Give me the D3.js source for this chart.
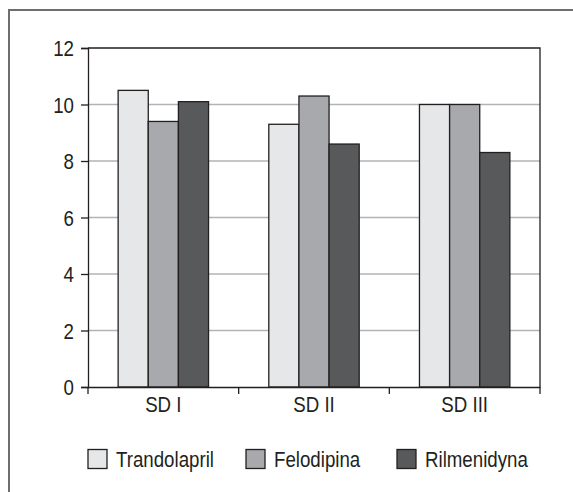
<!DOCTYPE html>
<html><head><meta charset="utf-8">
<script src="https://cdn.jsdelivr.net/npm/d3@7"></script>
<style>
html,body{margin:0;padding:0;background:#fff;}
svg text{font-family:"Liberation Sans",Arial,sans-serif;fill:#231f20;}
</style></head>
<body>
<svg id="chart" width="573" height="492"></svg>
<script>
const categories = ["SD I", "SD II", "SD III"];
const seriesNames = ["Trandolapril", "Felodipina", "Rilmenidyna"];
const trandolapril = [10.5, 9.3, 10.0];
const felodipina = [9.4, 10.3, 10.0];
const rilmenidyna = [10.1, 8.6, 8.3];
const yTicks = [0, 2, 4, 6, 8, 10, 12];
const colors = ["#e6e7e8", "#a7a9ac", "#58595b"];

const seriesValues = [trandolapril, felodipina, rilmenidyna];
const svg = d3.select("#chart");
const SX = 0.85, FS = "22px";

// outer frame (top and left only visible)
svg.append("path").attr("d","M9,492 V10 H573").attr("fill","none").attr("stroke","#6d6e70").attr("stroke-width",2);

const L=88, R=540, T=48, B=387;
const x0 = d3.scaleBand().domain(categories).range([L,R]).paddingInner(0).paddingOuter(0);
const x1 = d3.scaleBand().domain(seriesNames).range([0,x0.bandwidth()]).paddingInner(0).paddingOuter(1);
const y = d3.scaleLinear().domain([0,12]).range([B,T]);

// gridlines
svg.append("g").selectAll("line").data(yTicks.filter(d=>d>0 && d<12)).join("line")
  .attr("x1",L).attr("x2",R).attr("y1",d=>y(d)).attr("y2",d=>y(d))
  .attr("stroke","#b1b3b6").attr("stroke-width",1.5);

// plot border top & right
svg.append("path").attr("d",`M${L},${y(12)} H${R} V${B}`).attr("fill","none").attr("stroke","#231f20").attr("stroke-width",1.3);

// bars
const g = svg.append("g");
categories.forEach((c,i)=>{
  seriesNames.forEach((s,j)=>{
    const v = seriesValues[j][i];
    g.append("rect")
      .attr("x", x0(c)+x1(s)).attr("width", x1.bandwidth())
      .attr("y", y(v)).attr("height", y(0)-y(v))
      .attr("fill", colors[j]).attr("stroke","#231f20").attr("stroke-width",1.3);
  });
});

function condense(sel){
  sel.each(function(){
    const t = d3.select(this);
    const x = +t.attr("x") || 0;
    t.attr("x", x/SX).attr("transform", `scale(${SX},1)`);
  });
}

// y axis
const yAxis = svg.append("g").attr("transform",`translate(${L},0)`)
  .call(d3.axisLeft(y).tickValues(yTicks).tickSize(7).tickPadding(7).tickFormat(d3.format("d")));
yAxis.select(".domain").attr("stroke","#231f20").attr("stroke-width",1.3);
yAxis.selectAll(".tick line").attr("stroke","#231f20").attr("stroke-width",1.3);
yAxis.selectAll("text").style("font-size",FS).attr("fill","#231f20").attr("dy","0.36em").call(condense);

// x axis
const xAxis = svg.append("g").attr("transform",`translate(0,${B})`)
  .call(d3.axisBottom(x0).tickSize(0).tickPadding(9));
xAxis.select(".domain").attr("stroke","#231f20").attr("stroke-width",1.3);
xAxis.selectAll("text").style("font-size",FS).attr("fill","#231f20").call(condense);
// category separator ticks
svg.append("g").selectAll("line").data([L].concat(categories.map(d=>x0(d)+x0.bandwidth()))).join("line")
  .attr("x1",d=>d).attr("x2",d=>d)
  .attr("y1",B).attr("y2",B+7).attr("stroke","#231f20").attr("stroke-width",1.3);

// legend
const legendX = [88, 246, 397];
const leg = svg.append("g");
seriesNames.forEach((s,j)=>{
  leg.append("rect").attr("x",legendX[j]).attr("y",449.5).attr("width",19).attr("height",19)
    .attr("fill",colors[j]).attr("stroke","#231f20").attr("stroke-width",1.3);
  leg.append("text").attr("x",legendX[j]+28).attr("y",467).text(s).style("font-size",FS).call(condense);
});
</script>
</body></html>
